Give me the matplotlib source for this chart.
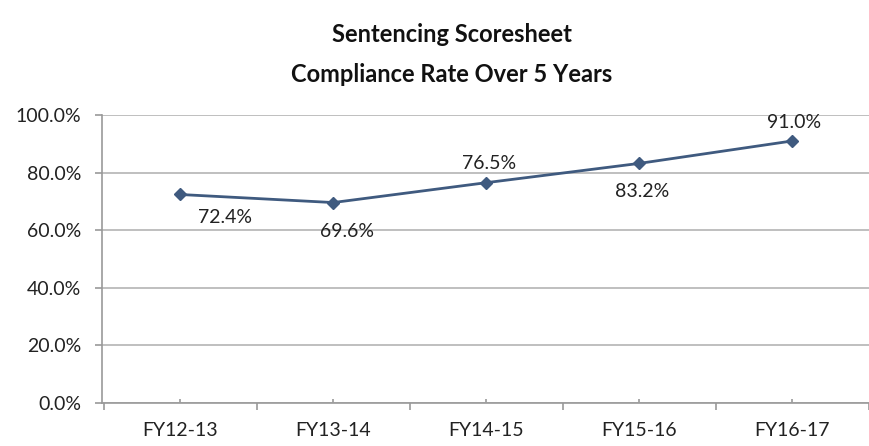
import matplotlib
matplotlib.use("Agg")
import matplotlib.pyplot as plt
from matplotlib.ticker import FixedLocator, PercentFormatter

categories = ["FY12-13", "FY13-14", "FY14-15", "FY15-16", "FY16-17"]
rates = [72.4, 69.6, 76.5, 83.2, 91.0]
labels = ["72.4%", "69.6%", "76.5%", "83.2%", "91.0%"]
label_offsets = [(45, -23), (14, -29), (3, 19), (3, -28), (2, 18)]  # pixels

plt.rcParams['font.family'] = ['Lato', 'DejaVu Sans']

fig = plt.figure(figsize=(8.69, 4.46), dpi=100)
W, H = 869, 446
left, right, top, bottom = 102, 869, 115, 403
ax = fig.add_axes([left / W, 1 - bottom / H, (right - left) / W, (bottom - top) / H])

col = "#3F5A7F"
x = list(range(len(categories)))
ax.plot(x, rates, color=col, lw=2, marker="D", ms=6.5, zorder=3)

for xi, yi, lab, (dx, dy) in zip(x, rates, labels, label_offsets):
    ax.annotate(lab, (xi, yi), xytext=(dx, dy), textcoords="offset pixels",
                ha="center", va="center", fontsize=14, color="#222222")

ax.set_xlim(-0.51, (869 - 181) / 155.0)
ax.set_ylim(0, 100)
ax.yaxis.set_major_locator(FixedLocator([0, 20, 40, 60, 80, 100]))
ax.yaxis.set_major_formatter(PercentFormatter(decimals=1))
ax.grid(axis="y", color="#B4B4B4", lw=1.2)
ax.set_axisbelow(True)

ax.set_xticks([i + 0.5 for i in range(-1, 5)])
ax.set_xticklabels([])
ax.set_xticks(x, minor=True)
ax.set_xticklabels(categories, minor=True)
ax.tick_params(axis="x", which="major", direction="out", length=5, color="#999999", width=1.2)
ax.tick_params(axis="x", which="minor", direction="in", length=3, color="#999999", width=1.2,
               labelsize=14, pad=14, labelcolor="#222222")
ax.tick_params(axis="y", direction="out", length=5, color="#999999", width=1.2,
               labelsize=14, pad=10, labelcolor="#222222")

for s in ["top", "right"]:
    ax.spines[s].set_visible(False)
for s in ["left", "bottom"]:
    ax.spines[s].set_color("#999999")
    ax.spines[s].set_linewidth(1.2)

fig.text(452 / W, 1 - 35 / H, "Sentencing Scoresheet", ha="center", va="center",
         fontsize=17, fontweight="bold", color="#111111")
fig.text(452 / W, 1 - 75 / H, "Compliance Rate Over 5 Years", ha="center", va="center",
         fontsize=17, fontweight="bold", color="#111111")

fig.savefig("out.png", dpi=100)
